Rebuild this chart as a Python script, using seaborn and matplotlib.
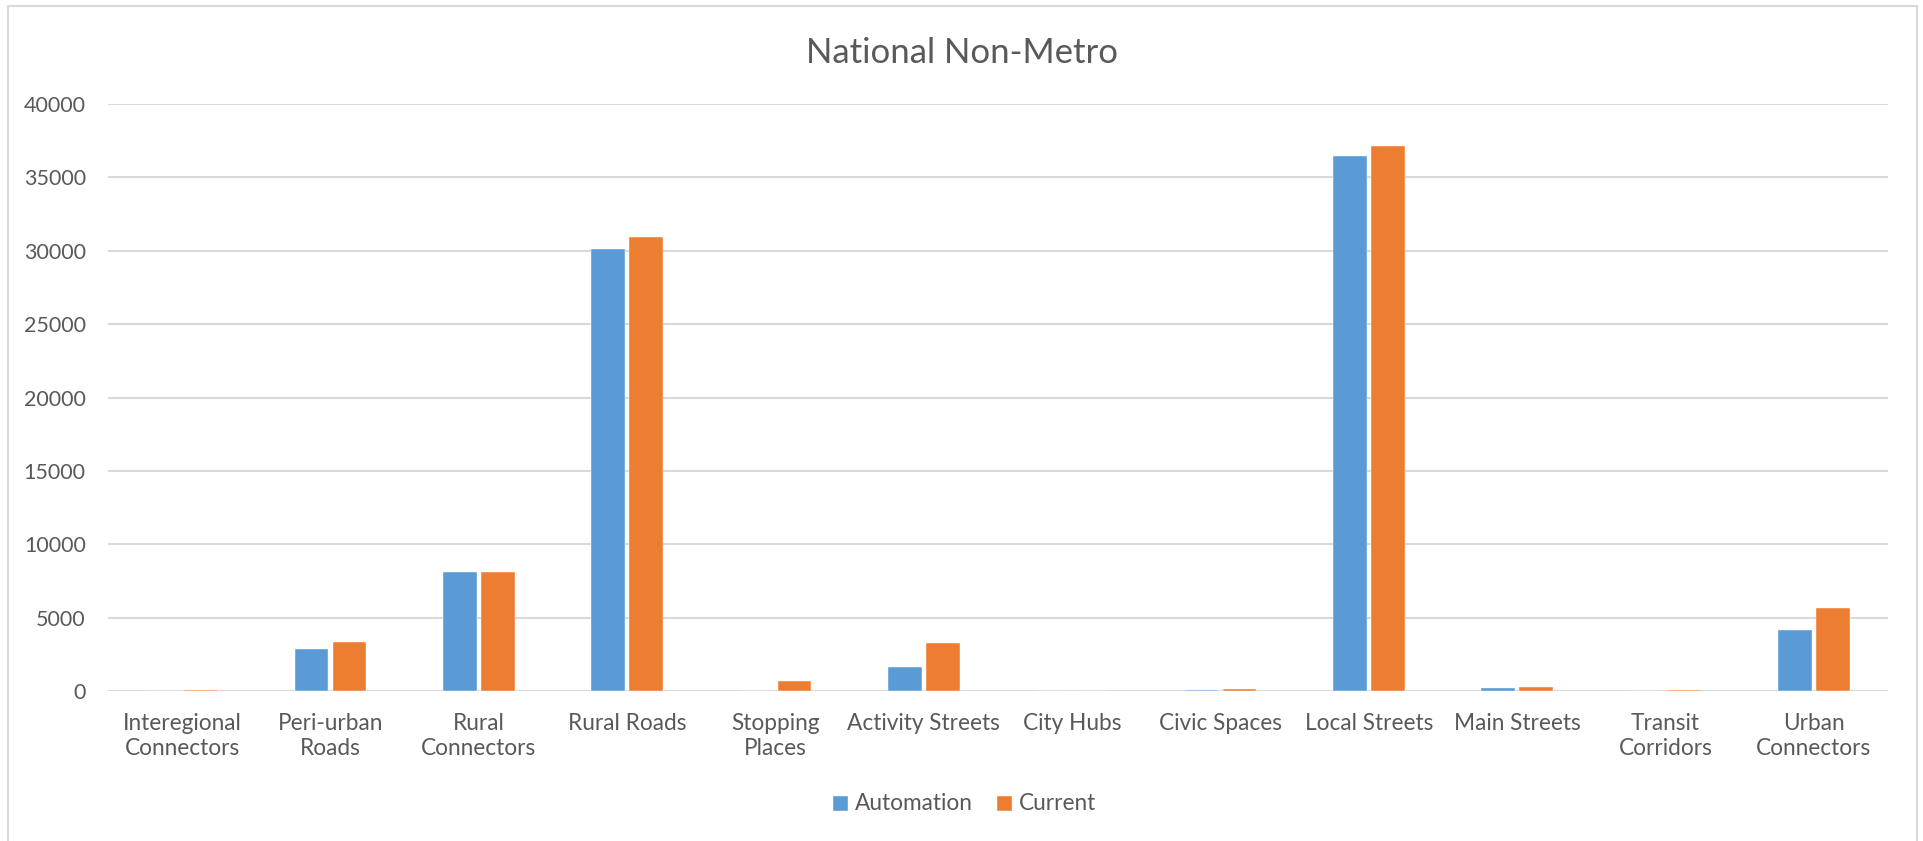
import matplotlib
matplotlib.use("Agg")
import matplotlib.pyplot as plt
from matplotlib.patches import Patch, Rectangle
import seaborn as sns
import pandas as pd

# Road categories and their counts for the two series
categories = [
    "Interegional Connectors", "Peri-urban Roads", "Rural Connectors",
    "Rural Roads", "Stopping Places", "Activity Streets", "City Hubs",
    "Civic Spaces", "Local Streets", "Main Streets", "Transit Corridors",
    "Urban Connectors",
]
tick_labels = [
    "Interegional\nConnectors", "Peri-urban\nRoads", "Rural\nConnectors",
    "Rural Roads", "Stopping\nPlaces", "Activity Streets", "City Hubs",
    "Civic Spaces", "Local Streets", "Main Streets", "Transit\nCorridors",
    "Urban\nConnectors",
]
automation = [15, 2870, 8110, 30130, 0, 1630, 0, 50, 36430, 180, 20, 4180]
current = [90, 3350, 8100, 30970, 680, 3260, 0, 120, 37170, 300, 40, 5630]
series_names = ["Automation", "Current"]
y_ticks = [0, 5000, 10000, 15000, 20000, 25000, 30000, 35000, 40000]

BLUE = "#5B9BD5"
ORANGE = "#ED7D31"
TEXT = "#595959"
GRID = "#D9D9D9"

sns.set_theme(style="white")
plt.rcParams["font.family"] = ["Lato", "DejaVu Sans"]

df = pd.DataFrame({
    "Category": categories * 2,
    "Value": automation + current,
    "Series": [series_names[0]] * len(categories) + [series_names[1]] * len(categories),
})

W, H = 1924, 841
fig = plt.figure(figsize=(W / 100, H / 100), dpi=100)
ax = fig.add_axes([108 / W, 1 - 691 / H, (1888 - 108) / W, (691 - 104) / H])

sns.barplot(
    data=df, x="Category", y="Value", hue="Series",
    order=categories, hue_order=series_names,
    palette=[BLUE, ORANGE], width=0.512, gap=0.117,
    edgecolor="white", linewidth=0.3, errorbar=None,
    legend=False, ax=ax, saturation=1,
)

ax.set_xlim(-0.5, len(categories) - 0.5)
ax.set_ylim(0, 40000)
ax.set_yticks(y_ticks)
ax.set_yticklabels([str(v) for v in y_ticks])
ax.set_xticks(range(len(categories)))
ax.set_xticklabels(tick_labels, linespacing=1.2)
ax.set_xlabel("")
ax.set_ylabel("")
ax.yaxis.grid(True, color=GRID, linewidth=1.5)
ax.set_axisbelow(True)
for s in ax.spines.values():
    s.set_visible(False)
ax.tick_params(axis="both", length=0, colors=TEXT)
ax.tick_params(axis="y", pad=16, labelsize=15.5)
ax.tick_params(axis="x", pad=16, labelsize=16.3)

fig.text(962 / W, 1 - 53 / H, "National Non-Metro", ha="center", va="center",
         fontsize=25, color=TEXT)

handles = [Patch(facecolor=BLUE), Patch(facecolor=ORANGE)]
fig.legend(handles, series_names, loc="center", bbox_to_anchor=(964 / W, 1 - 804 / H),
           ncol=2, frameon=False, fontsize=16.3, handlelength=0.7, handleheight=0.7,
           handletextpad=0.3, columnspacing=1.05, labelcolor=TEXT)

# Chart frame
fig.patches.append(Rectangle((8 / W, -0.05), (1917 - 8) / W, 1 - 6 / H + 0.05,
                             transform=fig.transFigure, fill=False,
                             edgecolor=GRID, linewidth=1.5))

fig.savefig("out.png", dpi=100, facecolor="white")
